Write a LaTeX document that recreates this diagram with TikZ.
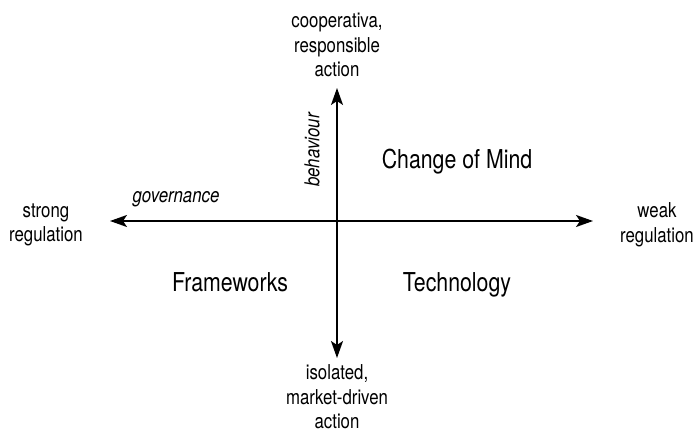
\documentclass[tikz,border=0pt]{standalone}
\usepackage{fontspec}
\setmainfont{TeX Gyre Heros}[FakeStretch=0.82]
\usepackage{tikz}
\usetikzlibrary{positioning,arrows.meta}
\tikzset{x=1pt, y=-1pt,
  axis/.style={line width=1.8pt, {Stealth[length=17pt,width=12pt,inset=4pt]}-{Stealth[length=17pt,width=12pt,inset=4pt]}},
  pole/.style={align=center, inner sep=0pt, font=\fontsize{20.5}{24.5}\selectfont},
  field/.style={anchor=base, inner sep=0pt, font=\fontsize{26}{30}\selectfont},
  dim/.style={inner sep=0pt, font=\fontsize{20.5}{24}\selectfont\itshape}}

\begin{document}
\begin{tikzpicture}

           \useasboundingbox (0,0) rectangle (695,433);

           \coordinate (Top) at (337,88);
           \coordinate (Bot) at (337,358);
           \coordinate (Lft) at (110,221);
           \coordinate (Rgt) at (593,221);

           \node (coop) [pole] at (337,45) {cooperativa,\\responsible\\action};
           \node (iso) [pole] at (337,397) {isolated,\\market-driven\\action};
           \node (strong) [pole] at (46,225) {strong\\regulation};
           \node (weak) [pole] at (657,225) {weak\\regulation};

           \node (mind) [field] at (457,168) {Change of Mind};
           \node (frame) [field] at (230,291) {Frameworks};
           \node (tech) [field] at (457,291) {Technology};

           \node (gov) [dim, anchor=base] at (176,202) {governance};
           \node (beh) [dim, rotate=90] at (312,150) {behaviour};

           \draw[axis] (Lft) -- (Rgt);
           \draw[axis] (Bot) -- (Top);

         \end{tikzpicture}
\end{document}
